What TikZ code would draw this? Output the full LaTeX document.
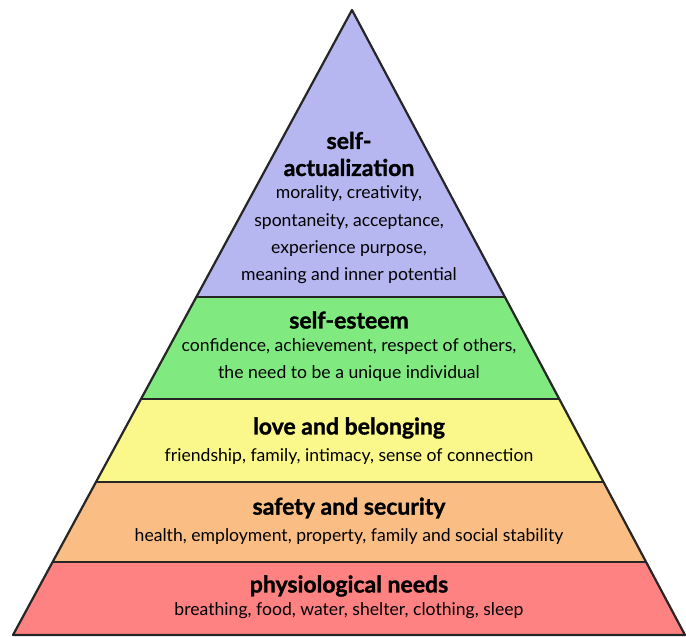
\documentclass[tikz,border=0pt]{standalone}
\usepackage{fontspec}
\setmainfont{Lato}[BoldFeatures={FakeBold=1.3}]
\usepackage{tikz}
\usepackage{xcolor}
\definecolor{violet}{RGB}{182,182,240}
\definecolor{vert}{RGB}{128,234,128}
\definecolor{jaune}{RGB}{250,248,138}
\definecolor{orange}{RGB}{250,190,132}
\definecolor{rouge}{RGB}{255,130,130}
\tikzset{
Couche/.style={
 fill=#1
 },
Trait/.style={
 draw=black!85, 
 line width=1.1pt
 },
Titre/.style={
 font=\bfseries\fontsize{11.5}{13.5}\selectfont, 
 align=center, 
 inner sep=0pt
 },
Texte/.style={
 font=\fontsize{8.8}{13.7}\selectfont, 
 align=center, 
 inner sep=0pt
 }
}

\begin{document}
\begin{tikzpicture}[x=0.5pt,y=-0.5pt]
\useasboundingbox (0,0) rectangle (686,637);
\coordinate (sommet) at (352,10);
\coordinate (gauche) at (13,635);
\coordinate (droite) at (685,635);
\begin{scope}
\clip (sommet) -- (gauche) -- (droite) -- cycle;
\fill[Couche=violet] (0,0) rectangle (686,297);
\fill[Couche=vert] (0,297) rectangle (686,399);
\fill[Couche=jaune] (0,399) rectangle (686,482);
\fill[Couche=orange] (0,482) rectangle (686,562);
\fill[Couche=rouge] (0,562) rectangle (686,637);
\draw[Trait] (0,297) -- (686,297);
\draw[Trait] (0,399) -- (686,399);
\draw[Trait] (0,482) -- (686,482);
\draw[Trait] (0,562) -- (686,562);
\end{scope}
\draw[Trait, line join=round] (sommet) -- (gauche) -- (droite) -- cycle;
\node[Titre] (actTitre) at (349,154) {self-\\actualization};
\node[Texte] (actTexte) at (349,235) {morality, creativity,\\spontaneity, acceptance,\\experience purpose,\\meaning and inner potential};
\node[Titre] (estTitre) at (349,320) {self-esteem};
\node[Texte] (estTexte) at (349,360) {confidence, achievement, respect of others,\\the need to be a unique individual};
\node[Titre] (amourTitre) at (349,428) {love and belonging};
\node[Texte] (amourTexte) at (349,457) {friendship, family, intimacy, sense of connection};
\node[Titre] (secTitre) at (349,508) {safety and security};
\node[Texte] (secTexte) at (349,537) {health, employment, property, family and social stability};
\node[Titre] (physTitre) at (349,586) {physiological needs};
\node[Texte] (physTexte) at (349,611) {breathing, food, water, shelter, clothing, sleep};
\end{tikzpicture}
\end{document}
